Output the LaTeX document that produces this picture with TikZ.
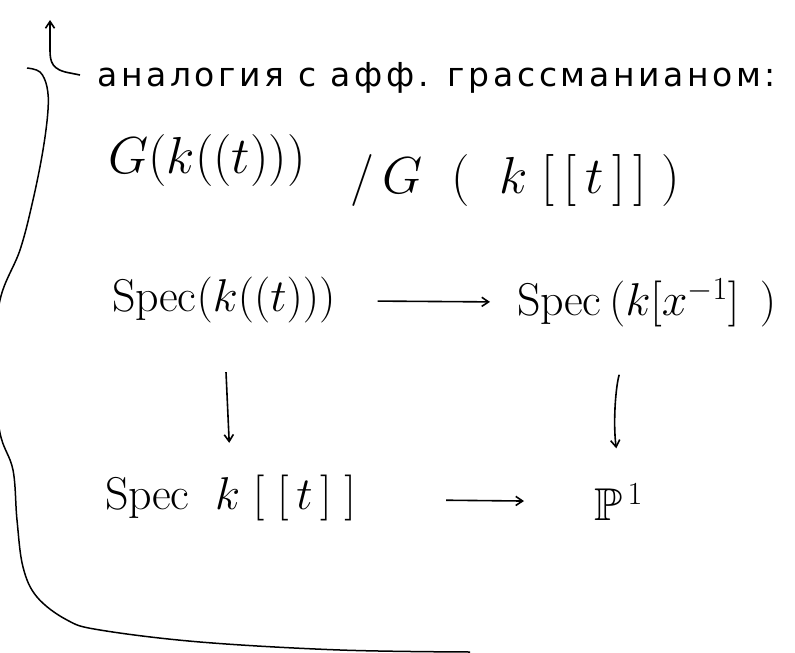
\RequirePackage{fix-cm}
\documentclass[tikz,border=0pt]{standalone}
\usepackage{amsmath,amssymb}
\usepackage{fontspec}
\newfontfamily\rufont[LetterSpace=11]{DejaVu Sans}
\usepackage{tikz}
\usetikzlibrary{arrows.meta,calc}
\tikzset{
  >={Straight Barb[length=2.4mm,width=3.2mm]},
  every node/.style={text=black,inner sep=2pt},
  ru/.style={font=\rufont\fontsize{33}{38}\selectfont},
  hand/.style={font=\fontsize{46}{52}\selectfont},
  bighand/.style={font=\fontsize{52}{58}\selectfont},
  map/.style={->,line width=1.6pt,draw=black},
  frameline/.style={line width=1.5pt,draw=black},
}

\begin{document}
\begin{tikzpicture}[x=1pt,y=-1pt]
  \useasboundingbox (0,0) rectangle (795,653);
  % heading
  \node[ru,anchor=west] (title) at (95,78) {аналогия с афф. грассманианом:};
  % quotient
  \node[bighand,anchor=west] (quot) at (106,160) {$G(k((t)))$};
  \node[bighand,anchor=west] (quotden) at (348,180) {$/\,G\;\;(\;\;k\;[\,[\,t\,]\,]\;)$};
  % square
  \node[hand,anchor=west] (speclaur) at (110,300) {$\mathrm{Spec}(k((t)))$};
  \node[hand,anchor=west] (specaff) at (515,303) {$\mathrm{Spec}\,(k[x^{-1}]\;\,)$};
  \node[hand,anchor=west] (specpow) at (103,498) {$\mathrm{Spec}\;\;k\;[\;[\,t\,]\;]$};
  \node[hand,anchor=west] (proj) at (592,502) {$\mathbb{P}^{\,1}$};

  \draw[map,shorten <=40pt,shorten >=25pt] (speclaur) -- (specaff);
  \draw[map,shorten <=47pt,shorten >=30pt] (speclaur.south) -- (specpow.north);
  \draw[map,shorten <=47pt,shorten >=33pt] ($(proj.north |- specaff.south)+(14,0)$) to[bend right=12] ($(proj.north)+(2,0)$);
  \draw[map,shorten <=88pt,shorten >=68pt] (specpow) -- (proj);

  % back-reference arrow and bracket
  \coordinate (hook) at (80,75);
  \draw[map] (hook) -- (70,73) .. controls (52,70) and (50,62) .. (50,50) -- (50,20);
  \draw[frameline] plot[smooth,tension=0.6] coordinates {(27,68) (40,72) (47,87) (48,110) (43,150) (33,200) (20,250) (0,300) (-7,370) (0,433) (13,470) (17,520) (23,567) (37,597) (67,620) (100,630) (200,642) (340,650) (470,652)};
\end{tikzpicture}
\end{document}
